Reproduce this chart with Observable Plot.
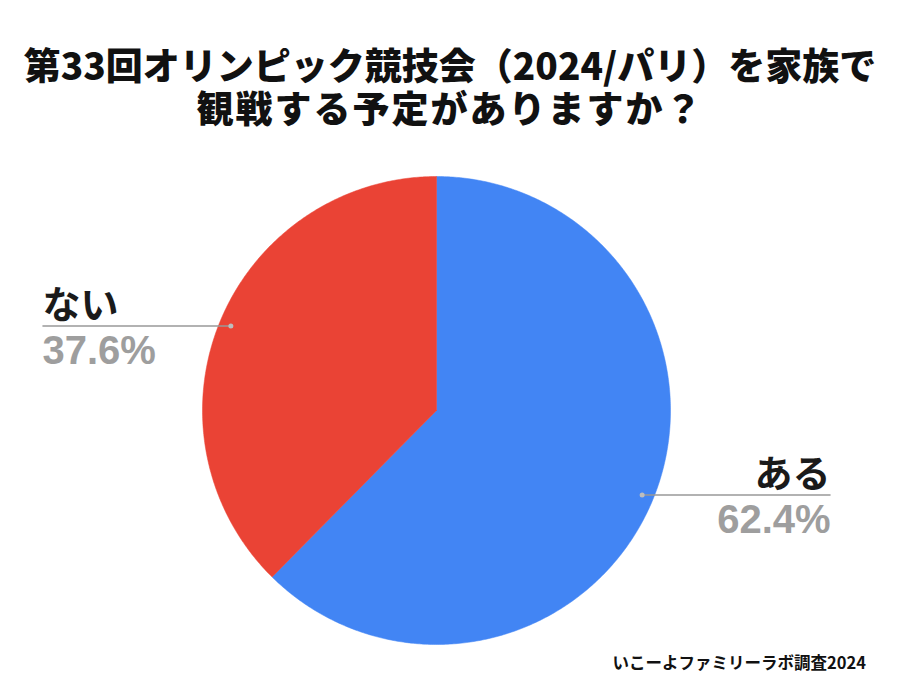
<!DOCTYPE html>
<html><head><meta charset="utf-8">
<script src="https://cdn.jsdelivr.net/npm/d3@7"></script>
<script src="https://cdn.jsdelivr.net/npm/@observablehq/plot@0.6"></script>
<style>
body{margin:0;background:#fff;width:900px;height:675px;overflow:hidden;font-family:"Noto Sans CJK JP","Noto Sans",sans-serif}
#title{padding-top:43px;text-align:center;font-size:37px;font-weight:900;color:#111;height:84px}
#title div{height:43px;line-height:43px;overflow:visible;white-space:nowrap}
#title .l1{letter-spacing:0px}
#title .l2{letter-spacing:2px}
#chart{height:525px}
#caption{text-align:right;padding-right:34px;font-size:16.5px;font-weight:700;line-height:20px;color:#111}
</style></head><body>
<div id="title"><div class="l1">第33回オリンピック競技会（2024/パリ）を家族で</div><div class="l2">観戦する予定がありますか？</div></div>
<div id="chart"></div>
<div id="caption">いこーよファミリーラボ調査2024</div>
<script>
const categories = ["ある", "ない"];
const values = [62.4, 37.6];
const percentLabels = ["62.4%", "37.6%"];
const colors = ["#4285F4", "#EA4335"];

const total = d3.sum(values);
const slices = [];
let acc = 0;
categories.forEach((c, i) => {
  const a0 = acc / total * 2 * Math.PI;
  acc += values[i];
  const a1 = acc / total * 2 * Math.PI;
  slices.push({cat: c, a0, a1, mid: (a0 + a1) / 2, pct: percentLabels[i], color: colors[i]});
});

function slicePath(s) {
  const pts = [{x: 0, y: 0}];
  const n = Math.max(2, Math.ceil((s.a1 - s.a0) / (Math.PI / 360)));
  for (let k = 0; k <= n; k++) {
    const a = s.a0 + (s.a1 - s.a0) * k / n;
    pts.push({x: Math.sin(a), y: Math.cos(a)});
  }
  pts.push({x: 0, y: 0});
  return pts;
}

const labelR = 0.95;
const lineEnd = 1.684;
const labels = slices.map(s => {
  const dx = labelR * Math.sin(s.mid), dy = labelR * Math.cos(s.mid);
  const left = dx < 0;
  return {cat: s.cat, pct: s.pct, x0: dx, y0: dy, x1: left ? -lineEnd : lineEnd, anchor: left ? "start" : "end"};
});

const marks = [];
slices.forEach(s => {
  marks.push(Plot.line(slicePath(s), {x: "x", y: "y", fill: s.color, stroke: s.color, strokeWidth: 0.5, curve: "linear"}));
});
marks.push(Plot.link(labels, {x1: "x0", y1: "y0", x2: "x1", y2: "y0", stroke: "#999", strokeWidth: 1.5}));
marks.push(Plot.dot(labels, {x: "x0", y: "y0", r: 2.5, fill: "#bdbdbd", stroke: "none"}));
labels.forEach(l => {
  marks.push(Plot.text([l], {x: "x1", y: "y0", text: "cat", textAnchor: l.anchor, lineAnchor: "bottom", dy: -8,
    fontSize: 38, fontWeight: 700, fill: "#1a1a1a", fontFamily: "Noto Sans CJK JP"}));
  marks.push(Plot.text([l], {x: "x1", y: "y0", text: "pct", textAnchor: l.anchor, lineAnchor: "top", dy: 10,
    fontSize: 40, fontWeight: 700, fill: "#9e9e9e", fontFamily: "Liberation Sans, Arial, sans-serif"}));
});

const plot = Plot.plot({
  width: 900, height: 525, margin: 0,
  x: {domain: [-1, 1], range: [202, 670], axis: null},
  y: {domain: [-1, 1], range: [517, 49], axis: null},
  marks
});
document.getElementById("chart").appendChild(plot);
</script>
</body></html>
